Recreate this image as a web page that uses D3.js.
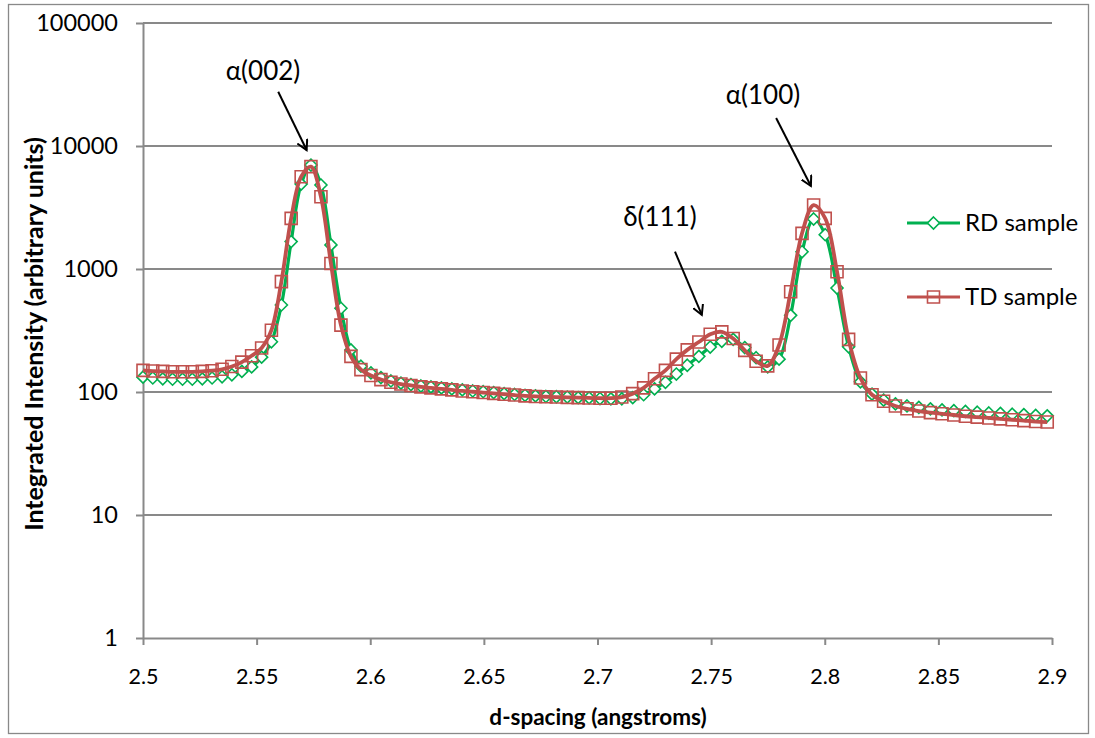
<!DOCTYPE html>
<html>
<head>
<meta charset="utf-8">
<script src="https://cdn.jsdelivr.net/npm/d3@7"></script>
<style>
  body { margin: 0; background: #fff; }
  svg { display: block; font-family: Lato, "Open Sans", sans-serif; }
</style>
</head>
<body>
<div id="chart"></div>
<script>
// d-spacing of each measured point (angstroms)
var dSpacing = [2.5000, 2.5043, 2.5087, 2.5130, 2.5174, 2.5217, 2.5261, 2.5304, 2.5348, 2.5391,
  2.5435, 2.5478, 2.5522, 2.5565, 2.5609, 2.5652, 2.5696, 2.5739, 2.5783, 2.5827,
  2.5871, 2.5915, 2.5959, 2.6003, 2.6047, 2.6091, 2.6135, 2.6179, 2.6223, 2.6267,
  2.6313, 2.6359, 2.6405, 2.6451, 2.6497, 2.6543, 2.6589, 2.6635, 2.6681, 2.6727,
  2.6773, 2.6819, 2.6867, 2.6915, 2.6963, 2.7011, 2.7059, 2.7107, 2.7155, 2.7203,
  2.7251, 2.7299, 2.7347, 2.7395, 2.7446, 2.7496, 2.7547, 2.7597, 2.7648, 2.7698,
  2.7749, 2.7799, 2.7850, 2.7900, 2.7951, 2.8002, 2.8054, 2.8105, 2.8157, 2.8208,
  2.8259, 2.8311, 2.8362, 2.8414, 2.8465, 2.8516, 2.8568, 2.8619, 2.8671, 2.8722,
  2.8773, 2.8825, 2.8876, 2.8928, 2.8979];

// RD sample integrated intensity
var rdIntensity = [132, 130, 128, 127, 127, 127, 128, 130, 133, 138,
  147, 160, 192, 256, 510, 1670, 4900, 7000, 4820, 1570,
  480, 220, 162, 143, 131, 123, 118, 115, 112, 110,
  108, 106, 104, 102, 100.5, 99, 97, 95.5, 94, 93,
  92, 91.5, 91, 90, 89.5, 88.5, 88, 88, 90, 95,
  106, 120, 140, 165, 195, 232, 258, 268, 230, 190,
  160, 185, 420, 1380, 2550, 1900, 700, 233, 121, 96,
  86, 80, 77, 75, 73, 71.5, 70.5, 69.5, 68.5, 67.5,
  67, 66, 65.5, 64.5, 64];

// TD sample integrated intensity
var tdIntensity = [150, 148, 147, 146, 146, 146, 147, 149, 153, 161,
  175, 197, 228, 318, 790, 2580, 5630, 6800, 3870, 1110,
  350, 195, 152, 136, 126, 120, 116, 113, 110, 108,
  106, 104, 102, 100.5, 99, 97.5, 96, 94.5, 93, 92,
  91.5, 91, 90.5, 90, 89.5, 89, 89, 91, 97, 108,
  128, 150, 185, 220, 255, 295, 308, 272, 218, 178,
  163, 241, 654, 1950, 3310, 2580, 950, 268, 130, 95,
  84, 77, 73, 70, 68, 66.5, 65, 63.5, 62.5, 61.5,
  60.5, 59.5, 58.5, 57.5, 57];

var xTicks = [2.5, 2.55, 2.6, 2.65, 2.7, 2.75, 2.8, 2.85, 2.9];
var yTicks = [1, 10, 100, 1000, 10000, 100000];
var seriesNames = ['RD sample', 'TD sample'];

// peak labels: text position and arrow start/end, in data units
var peakLabels = ['α(002)', 'δ(111)', 'α(100)'];
var labelD = [2.5528, 2.7275, 2.7728];
var labelI = [34400, 2240, 21900];
var arrowFromD = [2.5595, 2.7341, 2.7786];
var arrowFromI = [27600, 1383, 16900];
var arrowToD = [2.5720, 2.7459, 2.7939];
var arrowToI = [9270, 423, 4730];

var W = 1095, H = 738;
var plotL = 143, plotR = 1052, plotT = 23, plotB = 638;
var gridColor = '#898989';
var rdColor = '#00B050', tdColor = '#C0504D';

var svg = d3.select('#chart').append('svg')
  .attr('width', W)
  .attr('height', H);

// chart frame
svg.append('rect')
  .attr('x', 8.5).attr('y', 4.5)
  .attr('width', 1080).attr('height', 729)
  .attr('fill', 'none')
  .attr('stroke', gridColor)
  .attr('stroke-width', 1.3);

var x = d3.scaleLinear().domain([2.5, 2.9]).range([plotL, plotR]);
var y = d3.scaleLog().domain([1, 100000]).range([plotB, plotT]);

// horizontal gridlines
svg.append('g')
  .selectAll('line')
  .data(yTicks.slice(1))
  .enter()
  .append('line')
  .attr('x1', plotL).attr('x2', plotR)
  .attr('y1', function(d){ return y(d); })
  .attr('y2', function(d){ return y(d); })
  .attr('stroke', gridColor)
  .attr('stroke-width', 2);

// axes
var yAxis = svg.append('g')
  .attr('transform', 'translate(' + plotL + ',0)')
  .call(d3.axisLeft(y).tickValues(yTicks).tickFormat(d3.format('d')).tickSizeInner(7).tickSizeOuter(0).tickPadding(18));
var xAxis = svg.append('g')
  .attr('transform', 'translate(0,' + plotB + ')')
  .call(d3.axisBottom(x).tickValues(xTicks).tickFormat(function(d){ return String(d); }).tickSizeInner(7).tickSizeOuter(0).tickPadding(24));

[yAxis, xAxis].forEach(function(ax){
  ax.select('.domain').attr('stroke', gridColor).attr('stroke-width', 2);
  ax.selectAll('.tick line').attr('stroke', gridColor).attr('stroke-width', 2);
  ax.selectAll('.tick text')
    .attr('fill', '#000')
    .style('font-size', '21.5px')
    .style('font-family', 'Lato, sans-serif');
});
yAxis.selectAll('.tick text').style('font-size', '23.5px');

// axis titles
svg.append('text')
  .attr('x', 598).attr('y', 725)
  .attr('text-anchor', 'middle')
  .style('font-size', '22.5px')
  .style('font-weight', 'bold')
  .text('d-spacing (angstroms)');

svg.append('text')
  .attr('transform', 'translate(43,334) rotate(-90)')
  .attr('text-anchor', 'middle')
  .style('font-size', '25px')
  .style('font-weight', 'bold')
  .text('Integrated Intensity (arbitrary units)');

var line = d3.line()
  .x(function(d){ return x(d[0]); })
  .y(function(d){ return y(d[1]); })
  .curve(d3.curveCatmullRom.alpha(0.5));

var diamond = 'M0,-6L6,0L0,6L-6,0Z';
var square = 'M-6,-6H6V6H-6Z';

function drawSeries(vals, color, shape, fill, lw){
  var pts = d3.zip(dSpacing, vals);
  var g = svg.append('g');
  g.append('path')
    .datum(pts)
    .attr('d', line)
    .attr('fill', 'none')
    .attr('stroke', color)
    .attr('stroke-width', lw)
    .attr('stroke-linejoin', 'round');
  g.selectAll('path.mk')
    .data(pts)
    .enter()
    .append('path')
    .attr('class', 'mk')
    .attr('d', shape)
    .attr('transform', function(d){ return 'translate(' + x(d[0]) + ',' + y(d[1]) + ')'; })
    .attr('fill', fill)
    .attr('stroke', color)
    .attr('stroke-width', 1.6);
}

drawSeries(rdIntensity, rdColor, diamond, '#fff', 3.2);
drawSeries(tdIntensity, tdColor, square, 'none', 3.8);

// legend
var legY = [223, 297];
var legColors = [rdColor, tdColor];
var legShapes = [diamond, square];
var legFills = ['#fff', 'none'];
var leg = svg.append('g')
  .selectAll('g')
  .data(seriesNames)
  .enter()
  .append('g')
  .attr('transform', function(d, i){ return 'translate(907,' + legY[i] + ')'; });
leg.append('line')
  .attr('x1', 0).attr('x2', 53)
  .attr('stroke', function(d, i){ return legColors[i]; })
  .attr('stroke-width', 3.2);
leg.append('path')
  .attr('d', function(d, i){ return legShapes[i]; })
  .attr('transform', 'translate(26.5,0)')
  .attr('fill', function(d, i){ return legFills[i]; })
  .attr('stroke', function(d, i){ return legColors[i]; })
  .attr('stroke-width', 1.6);
leg.append('text')
  .attr('x', 58).attr('y', 8)
  .style('font-size', '24px')
  .text(function(d){ return d; });

// peak annotations
svg.append('defs').append('marker')
  .attr('id', 'vhead')
  .attr('viewBox', '-10 -6 12 12')
  .attr('markerWidth', 12).attr('markerHeight', 12)
  .attr('markerUnits', 'userSpaceOnUse')
  .attr('refX', 0).attr('refY', 0)
  .attr('orient', 'auto')
  .append('path')
  .attr('d', 'M-10,-5.5L0,0L-10,5.5')
  .attr('fill', 'none')
  .attr('stroke', '#000')
  .attr('stroke-width', 2);

var ann = svg.append('g');
ann.selectAll('line')
  .data(peakLabels)
  .enter()
  .append('line')
  .attr('x1', function(d, i){ return x(arrowFromD[i]); })
  .attr('y1', function(d, i){ return y(arrowFromI[i]); })
  .attr('x2', function(d, i){ return x(arrowToD[i]); })
  .attr('y2', function(d, i){ return y(arrowToI[i]); })
  .attr('stroke', '#000')
  .attr('stroke-width', 2)
  .attr('marker-end', 'url(#vhead)');
ann.selectAll('text')
  .data(peakLabels)
  .enter()
  .append('text')
  .attr('x', function(d, i){ return x(labelD[i]); })
  .attr('y', function(d, i){ return y(labelI[i]); })
  .attr('text-anchor', 'middle')
  .style('font-size', '26px')
  .text(function(d){ return d; });
</script>
</body>
</html>
